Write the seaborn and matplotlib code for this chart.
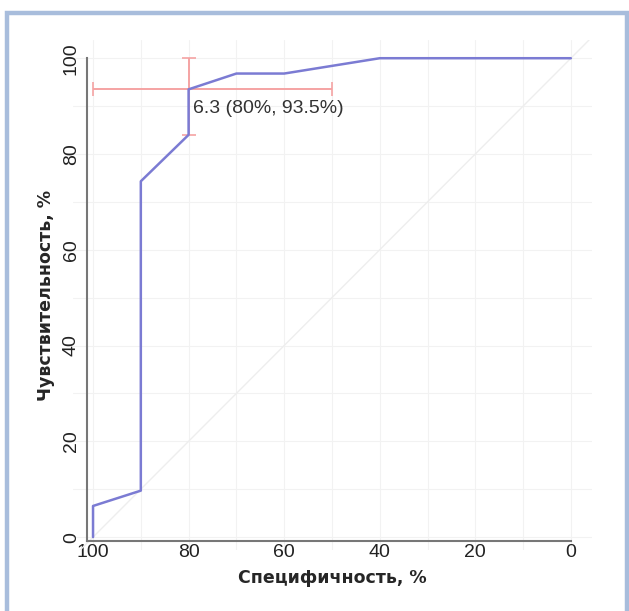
import matplotlib

matplotlib.use("Agg")
import matplotlib.pyplot as plt
import pandas as pd
import seaborn as sns
from matplotlib.patches import Rectangle

# ROC curve points (specificity %, sensitivity %)
specificity = [100, 100, 90, 90, 80, 80, 70, 60, 40, 0]
sensitivity = [0, 6.5, 9.7, 74.3, 84.0, 93.5, 96.8, 96.8, 100, 100]

# optimal cut-off with its confidence intervals
cut_label = "6.3 (80%, 93.5%)"
cut_spec = 80
cut_sens = 93.5
spec_ci = (50, 100)
sens_ci = (84.0, 100)

ticks = [0, 20, 40, 60, 80, 100]

sns.set_style("whitegrid", {"grid.color": "#f2f2f2"})
plt.rcParams["font.family"] = ["Liberation Sans", "DejaVu Sans"]

fig = plt.figure(figsize=(6.29, 6.11), dpi=100)
ax = fig.add_axes([0.116, 0.0998, 0.825, 0.8347])

df = pd.DataFrame({"spec": specificity, "sens": sensitivity})

# reference diagonal
ax.axline((100, 0), (0, 100), color="#eeeeee", lw=1.0, zorder=1)

ax.errorbar(
    cut_spec, cut_sens,
    xerr=[[cut_spec - spec_ci[0]], [spec_ci[1] - cut_spec]],
    yerr=[[cut_sens - sens_ci[0]], [sens_ci[1] - cut_sens]],
    fmt="none", ecolor="#f5a3a3", elinewidth=1.4, capsize=5, capthick=1.2, zorder=2,
)

sns.lineplot(data=df, x="spec", y="sens", sort=False, estimator=None,
             color="#7b7bd3", lw=1.8, ax=ax, zorder=3)

ax.text(cut_spec - 1, cut_sens - 2.3, cut_label, fontsize=14, color="#333333",
        ha="left", va="top")

ax.set_xlim(104.2, -4.4)
ax.set_ylim(-2.7, 103.8)
ax.set_xticks(range(0, 101, 10))
ax.set_yticks(range(0, 101, 10))
ax.set_xticklabels([str(t) if t in ticks else "" for t in range(0, 101, 10)])
ax.set_yticklabels([str(t) if t in ticks else "" for t in range(0, 101, 10)])
ax.tick_params(axis="both", labelsize=14, labelcolor="#222222", length=0)
ax.tick_params(axis="x", pad=2)
ax.tick_params(axis="y", labelrotation=90, pad=5)

for side in ["top", "right"]:
    ax.spines[side].set_visible(False)
ax.spines["left"].set_position(("data", 101.3))
ax.spines["bottom"].set_position(("data", -0.8))
ax.spines["left"].set_bounds(-0.8, 100)
ax.spines["bottom"].set_bounds(0, 101.3)
for side in ["left", "bottom"]:
    ax.spines[side].set_color("#777777")
    ax.spines[side].set_linewidth(1.5)

ax.set_xlabel("Специфичность, %", fontsize=12.5, fontweight="bold",
              family=["DejaVu Sans"], labelpad=6)
ax.set_ylabel("Чувствительность, %", fontsize=12.5, fontweight="bold",
              family=["DejaVu Sans"], labelpad=6)

# light blue frame around the figure
fig.patches.append(Rectangle((7 / 629, -0.1), 620 / 629, 1.1 - 12.5 / 611,
                             transform=fig.transFigure, fill=False,
                             edgecolor="#a8bddc", lw=3.2))

plt.setp(ax.get_yticklabels(), va="center", rotation_mode="default")
fig.savefig("out.png", dpi=100)
